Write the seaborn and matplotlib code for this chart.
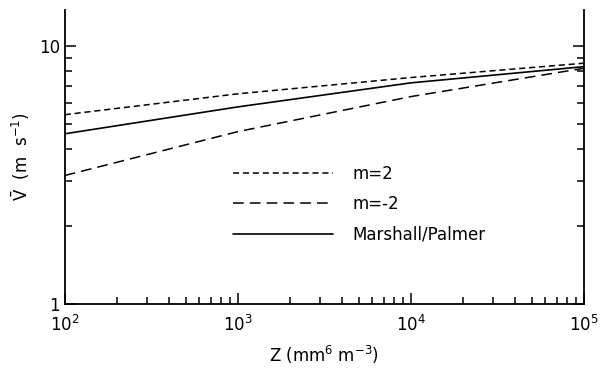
import numpy as np
import pandas as pd
import matplotlib
matplotlib.use("Agg")
import matplotlib.pyplot as plt
import seaborn as sns
from matplotlib.ticker import LogLocator, NullFormatter, FixedLocator, FixedFormatter

# data
z = [1e2, 1e3, 1e4, 1e5]
v_m2 = [5.42, 6.53, 7.55, 8.58]
v_mneg2 = [3.15, 4.66, 6.37, 8.20]
v_mp = [4.57, 5.81, 7.20, 8.32]
labels = ["m=2", "m=-2", "Marshall/Palmer"]

sns.set_style("ticks", {"axes.edgecolor": "black", "xtick.color": "black",
                        "ytick.color": "black", "text.color": "black",
                        "axes.labelcolor": "black"})
plt.rcParams["font.family"] = ["DejaVu Sans"]
plt.rcParams["mathtext.default"] = "regular"

fig = plt.figure(figsize=(6.05, 3.83), dpi=100)
ax = fig.add_axes([0.107, 0.206, 0.858, 0.768])

sns.lineplot(x=z, y=v_m2, ax=ax, color="black", lw=1.1, label=labels[0])
ax.lines[-1].set_dashes([4, 2.5])
sns.lineplot(x=z, y=v_mneg2, ax=ax, color="black", lw=1.1, label=labels[1])
ax.lines[-1].set_dashes([7, 4])
sns.lineplot(x=z, y=v_mp, ax=ax, color="black", lw=1.2, label=labels[2])

ax.set_xscale("log")
ax.set_yscale("log")
ax.set_xlim(1e2, 1e5)
ax.set_ylim(1, 13.8)

ax.yaxis.set_major_locator(FixedLocator([1, 10]))
ax.yaxis.set_major_formatter(FixedFormatter(["1", "10"]))
ax.yaxis.set_minor_locator(LogLocator(base=10, subs=np.arange(2, 10)))
ax.yaxis.set_minor_formatter(NullFormatter())
ax.xaxis.set_minor_locator(LogLocator(base=10, subs=np.arange(2, 10)))
ax.xaxis.set_minor_formatter(NullFormatter())

ax.tick_params(which="both", direction="in", right=True, top=False, labelsize=12, width=1.1)
ax.tick_params(which="major", length=8)
ax.tick_params(which="minor", length=5)
ax.tick_params(axis="x", pad=8)
ax.spines["top"].set_visible(False)
for s in ["left", "right", "bottom"]:
    ax.spines[s].set_linewidth(1.3)

ax.set_xlabel("Z (mm$^6$ m$^{-3}$)", fontsize=12, labelpad=6)
ax.set_ylabel(r"$\bar{V}$  (m  s$^{-1}$)", fontsize=12, labelpad=5)

ax.legend(loc="upper left", bbox_to_anchor=(0.295, 0.525), frameon=False, fontsize=12,
          handlelength=6.0, handletextpad=1.2, labelspacing=0.75)

fig.savefig("out.png", dpi=100)
